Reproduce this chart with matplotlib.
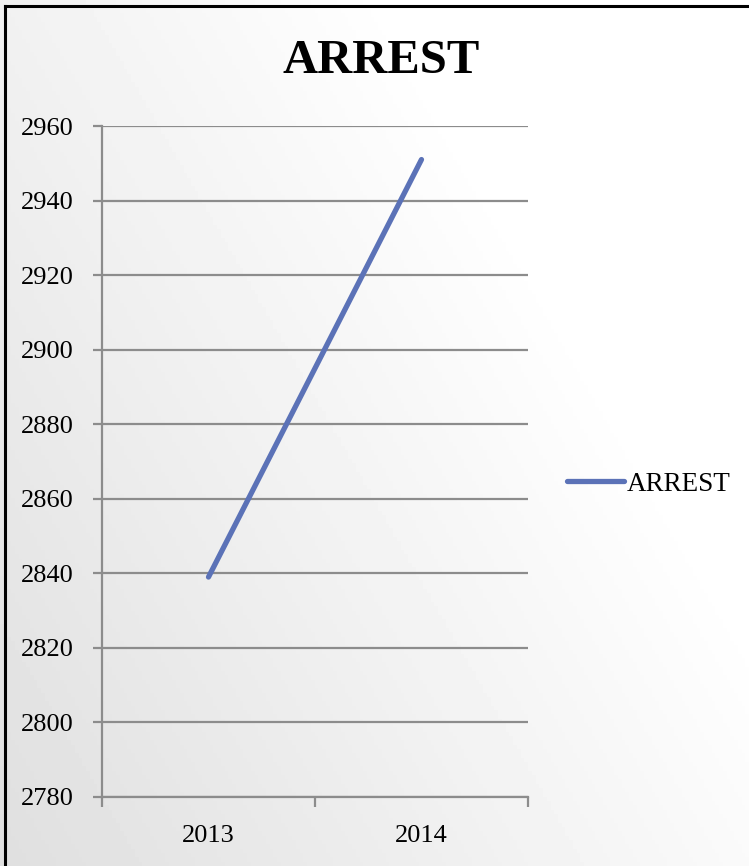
import numpy as np
import matplotlib.pyplot as plt
from matplotlib.lines import Line2D

years = ["2013", "2014"]
arrests = [2839, 2951]
y_ticks = [2780, 2800, 2820, 2840, 2860, 2880, 2900, 2920, 2940, 2960]

plt.rcParams['font.family'] = ['Liberation Serif', 'DejaVu Serif']

fig = plt.figure(figsize=(7.49, 8.66), dpi=100)

# background gradient, grey bottom-left to white top-right
bg = fig.add_axes([0, 0, 1, 1], zorder=-10)
gx, gy = np.meshgrid(np.linspace(0, 1, 200), np.linspace(0, 1, 200))
grad = np.clip((gx * 0.6 + gy * 0.4) * 1.4, 0, 1)
bg.imshow(grad, cmap='gray', vmin=-7, vmax=1, origin='lower',
          extent=[0, 1, 0, 1], aspect='auto')
bg.axis('off')

# frame: left and top black lines
fig.add_artist(Line2D([0.0067, 0.0067], [0, 0.9925], color='black', lw=2.2,
                      transform=fig.transFigure))
fig.add_artist(Line2D([0.0067, 1.0], [0.9925, 0.9925], color='black', lw=2.2,
                      transform=fig.transFigure))

ax = fig.add_axes([0.1362, 0.0797, 0.5687, 0.7748])
ax.patch.set_alpha(0)
xpos = np.arange(len(years)) + 0.5
ax.plot(xpos, arrests, color='#5B72B7', lw=3.8, solid_capstyle='round',
        label='ARREST')

ax.set_xlim(0, len(years))
ax.set_ylim(2780, 2960)
ax.set_yticks(y_ticks)
ax.yaxis.grid(True, color='#8c8c8c', lw=1.6)
ax.set_axisbelow(True)

ax.set_xticks(xpos)
ax.set_xticklabels(years)
ax.set_xticks(np.arange(len(years) + 1), minor=True)
ax.tick_params(axis='x', which='major', length=0, pad=20, labelsize=19)
ax.tick_params(axis='x', which='minor', length=7, width=1.6, color='#8c8c8c')
ax.tick_params(axis='y', length=6.5, width=1.6, color='#8c8c8c', labelsize=19,
               pad=14)

for s in ['top', 'right']:
    ax.spines[s].set_visible(False)
for s in ['left', 'bottom']:
    ax.spines[s].set_color('#8c8c8c')
    ax.spines[s].set_linewidth(1.6)

fig.text(0.509, 0.93, 'ARREST', ha='center', va='center', fontsize=35,
         fontweight='bold')

ax.legend(loc='center left', bbox_to_anchor=(1.091, 0.466), frameon=False,
          fontsize=19.5, handlelength=2.1, handletextpad=0.1,
          borderaxespad=0, borderpad=0)

fig.savefig('out.png', dpi=100)
